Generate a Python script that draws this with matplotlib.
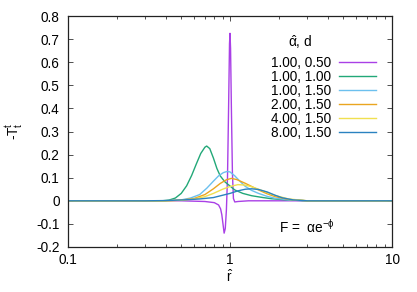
import matplotlib
matplotlib.use("Agg")
import matplotlib.pyplot as plt
from matplotlib.ticker import LogLocator, NullFormatter, FixedLocator, FixedFormatter

plt.rcParams['font.family'] = ['Liberation Sans', 'DejaVu Sans']
plt.rcParams['mathtext.fontset'] = 'custom'
plt.rcParams['mathtext.rm'] = 'Liberation Sans'
plt.rcParams['mathtext.it'] = 'Liberation Sans'
plt.rcParams['mathtext.default'] = 'regular'

FS = 9.8

labels = ["1.00, 0.50", "1.00, 1.00", "1.00, 1.50", "2.00, 1.50", "4.00, 1.50", "8.00, 1.50"]
colors = ["#a940e6", "#22a878", "#6cc0ee", "#eaa520", "#f0e050", "#2a82c0"]

r_purple = [0.1, 0.5, 0.7, 0.8, 0.85, 0.875, 0.89, 0.905, 0.92, 0.935, 0.95, 0.965, 0.98, 0.993, 1.0, 1.008, 1.02, 1.035, 1.05, 1.07, 1.12, 1.3, 10]
v_purple = [0.0, 0.0, -0.003, -0.008, -0.018, -0.035, -0.06, -0.1, -0.14, -0.12, -0.04, 0.1, 0.4, 0.68, 0.725, 0.66, 0.4, 0.12, 0.01, -0.005, -0.003, 0.0, 0.0]

r_green = [0.1, 0.38, 0.42, 0.46, 0.5, 0.54, 0.58, 0.62, 0.66, 0.70, 0.718, 0.75, 0.79, 0.83, 0.87, 0.93, 1.0, 1.07, 1.2, 1.36, 1.6, 1.8, 2.2, 3.0, 10]
v_green = [0.0, 0.0, 0.003, 0.012, 0.032, 0.065, 0.11, 0.16, 0.205, 0.232, 0.237, 0.226, 0.185, 0.14, 0.108, 0.082, 0.064, 0.047, 0.032, 0.022, 0.014, 0.009, 0.004, 0.0, 0.0]

r_sky = [0.1, 0.4, 0.5, 0.57, 0.65, 0.72, 0.79, 0.85, 0.91, 0.96, 1.0, 1.07, 1.15, 1.24, 1.36, 1.5, 1.7, 1.9, 2.3, 3.0, 10]
v_sky = [0.0, 0.0, 0.004, 0.012, 0.027, 0.055, 0.085, 0.108, 0.122, 0.127, 0.125, 0.108, 0.085, 0.063, 0.045, 0.032, 0.019, 0.011, 0.004, 0.0, 0.0]

r_orange = [0.1, 0.4, 0.5, 0.6, 0.7, 0.79, 0.87, 0.95, 1.02, 1.1, 1.24, 1.36, 1.5, 1.7, 1.9, 2.3, 3.0, 10]
v_orange = [0.0, 0.0, 0.003, 0.01, 0.027, 0.052, 0.075, 0.091, 0.097, 0.092, 0.076, 0.062, 0.047, 0.03, 0.018, 0.006, 0.0, 0.0]

r_yellow = [0.1, 0.4, 0.5, 0.6, 0.7, 0.79, 0.9, 1.0, 1.12, 1.24, 1.36, 1.5, 1.64, 1.9, 2.3, 3.0, 10]
v_yellow = [0.0, 0.0, 0.002, 0.008, 0.018, 0.032, 0.05, 0.062, 0.07, 0.068, 0.061, 0.05, 0.04, 0.023, 0.008, 0.0, 0.0]

r_blue = [0.1, 0.3, 0.4, 0.52, 0.65, 0.79, 0.9, 1.0, 1.12, 1.24, 1.36, 1.5, 1.7, 1.9, 2.1, 2.45, 3.0, 10]
v_blue = [0.0, 0.0, 0.001, 0.004, 0.008, 0.014, 0.024, 0.032, 0.043, 0.05, 0.052, 0.049, 0.038, 0.024, 0.013, 0.004, 0.0, 0.0]

series = [(r_purple, v_purple), (r_green, v_green), (r_sky, v_sky),
          (r_orange, v_orange), (r_yellow, v_yellow), (r_blue, v_blue)]

yticks = [-0.2, -0.1, 0, 0.1, 0.2, 0.3, 0.4, 0.5, 0.6, 0.7, 0.8]
ytick_labels = ["-0.2", "-0.1", "0", "0.1", "0.2", "0.3", "0.4", "0.5", "0.6", "0.7", "0.8"]
xticks = [0.1, 1, 10]
xtick_labels = ["0.1", "1", "10"]

fig = plt.figure(figsize=(4.17, 2.92), dpi=100)
ax = fig.add_axes([68/417, 1-247/292, 324/417, 231/292])

handles = []
for (rr, vv), c, lab in zip(series, colors, labels):
    h, = ax.plot(rr, vv, color=c, lw=1.0, label=lab)
    handles.append(h)

ax.set_xscale('log')
ax.set_xlim(0.1, 10)
ax.set_ylim(-0.2, 0.8)
ax.xaxis.set_major_locator(FixedLocator(xticks))
ax.xaxis.set_major_formatter(FixedFormatter(xtick_labels))
ax.xaxis.set_minor_locator(LogLocator(base=10, subs=range(2, 10)))
ax.xaxis.set_minor_formatter(NullFormatter())
ax.yaxis.set_major_locator(FixedLocator(yticks))
ax.yaxis.set_major_formatter(FixedFormatter(ytick_labels))

ax.tick_params(which='both', direction='in', top=True, right=True, labelsize=FS, color='#333333', width=0.6)
ax.tick_params(which='major', length=3.5)
ax.tick_params(which='minor', length=2)
ax.tick_params(axis='y', pad=6)
ax.tick_params(axis='x', pad=4.5)
for s in ax.spines.values():
    s.set_linewidth(0.9)
    s.set_color('#222222')

ax.set_xlabel(r"$\hat{r}$", fontsize=FS, labelpad=1)
ax.set_ylabel(r"-T$^{t}_{t}$", fontsize=FS, labelpad=8)

leg = ax.legend(handles=handles, loc='upper right', bbox_to_anchor=(0.951, 0.826),
                frameon=False, markerfirst=False, fontsize=FS, handlelength=2.7,
                handletextpad=0.6, labelspacing=0.0, borderpad=0, borderaxespad=0)
ax.text((300-68)/324, (247-42)/231, r"$\hat{\alpha}$, d", transform=ax.transAxes,
        ha='center', va='center', fontsize=FS)
ax.text((279-68)/324, (247-227)/231, r"F =  $\alpha e^{-\phi}$", transform=ax.transAxes,
        ha='left', va='center', fontsize=FS)

fig.savefig("out.png", dpi=100)
